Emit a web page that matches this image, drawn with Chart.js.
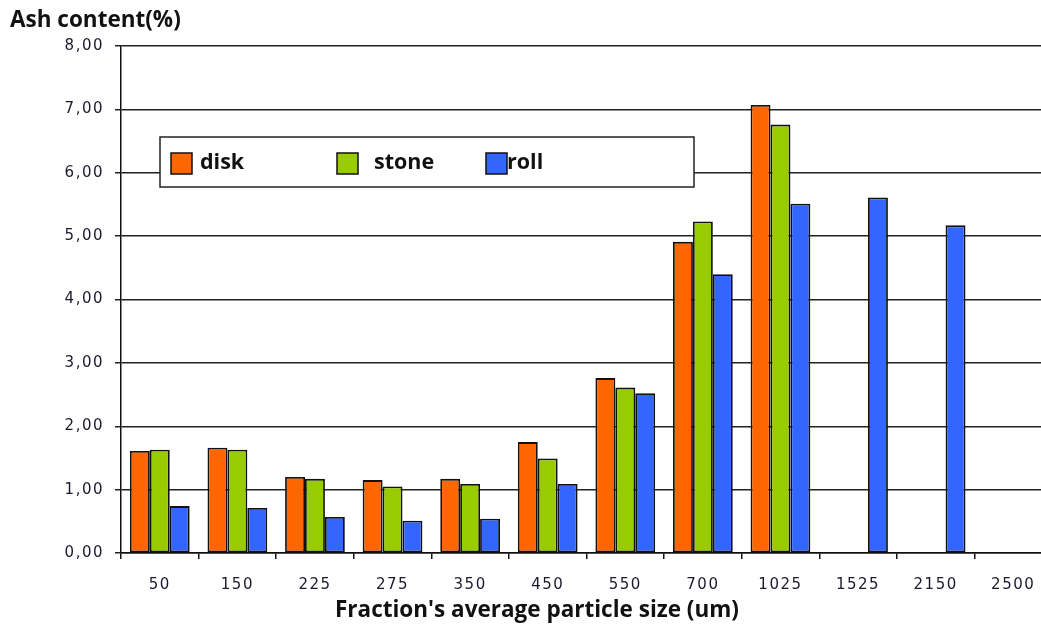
<!DOCTYPE html>
<html>
<head>
<meta charset="utf-8">
<script src="https://cdn.jsdelivr.net/npm/chart.js@4/dist/chart.umd.min.js"></script>
<style>
  html, body { margin: 0; padding: 0; background: #fff; overflow: hidden; }
  #wrap { width: 1056px; height: 627px; position: relative; }
</style>
</head>
<body>
<div id="wrap"><canvas id="c"></canvas></div>
<script>
// ---- data ----
const categories = ['50', '150', '225', '275', '350', '450', '550', '700', '1025', '1525', '2150', '2500'];
const diskValues  = [1.61, 1.66, 1.20, 1.15, 1.17, 1.75, 2.76, 4.91, 7.07, null, null, null];
const stoneValues = [1.63, 1.63, 1.17, 1.05, 1.09, 1.49, 2.61, 5.23, 6.76, null, null, null];
const rollValues  = [0.74, 0.71, 0.57, 0.51, 0.54, 1.09, 2.52, 4.40, 5.51, 5.61, 5.17, null];
const seriesNames = ['disk', 'stone', 'roll'];
const yTitle = 'Ash content(%)';
const xTitle = "Fraction's average particle size (um)";

const colors = ['#FF6600', '#99CC00', '#3366FF'];
const TITLE_FONT = 'bold 22.5px "Open Sans"';

const spacingPlugin = {
  id: 'tickSpacing',
  beforeDraw(chart) { chart.ctx.letterSpacing = '1.5px'; }
};

const overlayPlugin = {
  id: 'overlay',
  afterDraw(chart) {
    const ctx = chart.ctx;
    const a = chart.chartArea;
    ctx.save();
    ctx.letterSpacing = '0px';
    // axis titles
    ctx.fillStyle = '#111';
    ctx.font = TITLE_FONT;
    ctx.textBaseline = 'middle';
    ctx.textAlign = 'left';
    ctx.fillText(yTitle, 10, 21);
    ctx.textAlign = 'center';
    ctx.fillText(xTitle, 537, 611);
    // legend box
    const x0 = a.left + 39, y0 = 137, w = 534, h = 50;
    ctx.fillStyle = '#fff';
    ctx.fillRect(x0, y0, w, h);
    ctx.strokeStyle = '#222';
    ctx.lineWidth = 1.5;
    ctx.strokeRect(x0, y0, w, h);
    const offs = [11, 177, 326];
    const textOffs = [40, 214, 347];
    ctx.font = 'bold 21.5px "Open Sans"';
    ctx.textAlign = 'left';
    chart.data.datasets.forEach((ds, i) => {
      const sx = x0 + offs[i], sy = y0 + 16;
      ctx.fillStyle = ds.backgroundColor;
      ctx.fillRect(sx, sy, 21, 21);
      ctx.strokeStyle = '#111';
      ctx.lineWidth = 1.5;
      ctx.strokeRect(sx, sy, 21, 21);
      ctx.fillStyle = '#111';
      ctx.fillText(ds.label, x0 + textOffs[i], y0 + 26);
    });
    ctx.restore();
  }
};

const ctx = document.getElementById('c');
new Chart(ctx, {
  type: 'bar',
  data: {
    labels: categories,
    datasets: [
      { label: seriesNames[0], data: diskValues,  backgroundColor: colors[0] },
      { label: seriesNames[1], data: stoneValues, backgroundColor: colors[1] },
      { label: seriesNames[2], data: rollValues,  backgroundColor: colors[2] }
    ].map(d => Object.assign(d, { borderColor: '#111', borderWidth: 1.8, borderSkipped: false,
                                  categoryPercentage: 0.77, barPercentage: 1.0 }))
  },
  options: {
    responsive: true,
    maintainAspectRatio: false,
    animation: false,
    layout: { padding: { left: 10, right: 4, top: 46, bottom: 16 } },
    plugins: {
      legend: { display: false },
      tooltip: { enabled: false },
      title: { display: false }
    },
    scales: {
      x: {
        grid: { display: true, drawOnChartArea: false, drawTicks: true, tickLength: 6, color: '#111', lineWidth: 1.5, offset: true },
        border: { display: true, color: '#111', width: 1.5 },
        ticks: { color: '#1a1a2e', font: { family: '"DejaVu Sans"', size: 15 }, padding: 17, maxRotation: 0, autoSkip: false }
      },
      y: {
        min: 0, max: 8,
        afterFit(scale) { scale.width = 111; },
        grid: { color: '#222', lineWidth: 1.5, tickLength: 6, drawTicks: true },
        border: { display: true, color: '#111', width: 1.5 },
        ticks: {
          stepSize: 1, color: '#1a1a2e', padding: 11,
          font: { family: '"DejaVu Sans"', size: 15 },
          callback: v => Number(v).toFixed(2).replace('.', ',')
        }
      }
    }
  },
  plugins: [spacingPlugin, overlayPlugin]
});
</script>
</body>
</html>
